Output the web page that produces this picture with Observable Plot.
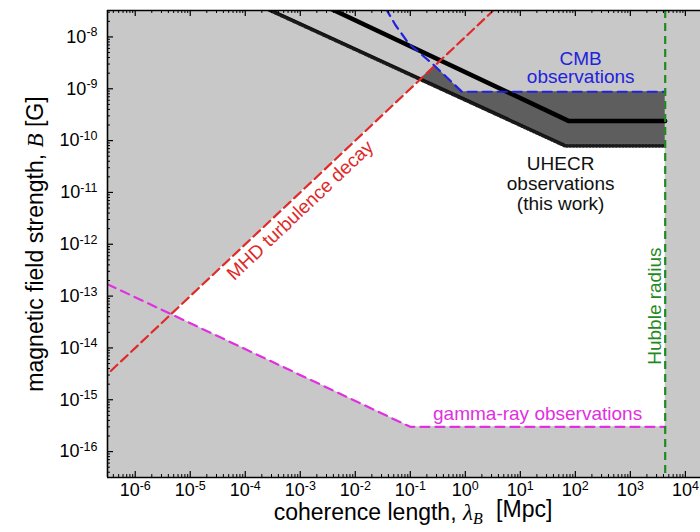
<!DOCTYPE html>
<html>
<head>
<meta charset="utf-8">
<script src="https://cdn.jsdelivr.net/npm/d3@7"></script>
<script src="https://cdn.jsdelivr.net/npm/@observablehq/plot@0.6"></script>
<style>
  body { margin: 0; background: #fff; }
  svg { display: block; }
</style>
</head>
<body>
<div id="chart"></div>
<script>
// Axis ticks (coherence length in Mpc, field strength in G)
const xTickValues = [1e-6, 1e-5, 1e-4, 1e-3, 1e-2, 1e-1, 1e0, 1e1, 1e2, 1e3, 1e4];
const xTickLabels = ["10^-6", "10^-5", "10^-4", "10^-3", "10^-2", "10^-1", "10^0", "10^1", "10^2", "10^3", "10^4"];
const yTickValues = [1e-16, 1e-15, 1e-14, 1e-13, 1e-12, 1e-11, 1e-10, 1e-9, 1e-8];
const yTickLabels = ["10^-16", "10^-15", "10^-14", "10^-13", "10^-12", "10^-11", "10^-10", "10^-9", "10^-8"];

// MHD turbulence decay, B ∝ λ
const mhdLambda = [1e-7, 10];
const mhdB = [1e-15, 1e-7];

// gamma-ray lower bound
const gammaLambda = [1e-7, 0.1, 4300];
const gammaB = [3e-13, 3e-16, 3e-16];

// CMB upper bound
const cmbLambda = [0.0355, 0.054, 0.094, 0.25, 0.87, 4300];
const cmbB = [3.6e-8, 1.68e-8, 7.4e-9, 3.07e-9, 8.75e-10, 8.75e-10];

// UHECR bound (this work): lower edge of excluded band and central line
const uhecrLowLambda = [1e-4, 65, 4300];
const uhecrLowB = [5.8e-8, 8.5e-11, 8.5e-11];
const uhecrLambda = [1e-4, 75, 4300];
const uhecrB = [2.1e-7, 2.4e-10, 2.4e-10];

// Hubble radius [Mpc]
const hubbleRadius = 4300;

// Annotation texts
const noteText = ["CMB\nobservations", "UHECR\nobservations\n(this work)", "gamma-ray observations", "MHD turbulence decay", "Hubble radius"];
const noteLambda = [125, 54, 20.6, 1.0e-3, 2770];
const noteB = [2.48e-9, 1.5e-11, 5.4e-16, 4.5e-12, 6.4e-14];
const noteColor = ["#2222dd", "#111111", "#e030e0", "#e02a2a", "#1f8a1f"];
const noteRotate = [0, 0, 0, -43.4, -90];
const noteLineHeight = [0.92, 1.06, 1, 1, 1];

const xDomain = [10 ** -6.504, 10 ** 4.275];
const yDomain = [10 ** -16.5, 10 ** -7.49];

const W = 700, H = 532;
const mL = 107, mR = 0, mT = 10, mB = 55;
const frameW = W - mL - mR, frameH = H - mT - mB;

// ---- helpers: piecewise power laws are straight lines in log–log space
const toCurve = (xs, ys) => xs.map((x, i) => [Math.log10(x), Math.log10(ys[i])]);
function at(c, lx) {
  let i = 0;
  while (i < c.length - 2 && lx > c[i + 1][0]) i++;
  const [x0, y0] = c[i], [x1, y1] = c[i + 1];
  return y0 + (y1 - y0) * (lx - x0) / (x1 - x0);
}
// region between a lower curve and the lowest of several upper curves
function band(lower, uppers, lx0, lx1) {
  const curves = [lower, ...uppers];
  let xs = [lx0, lx1];
  for (const c of curves) for (const [x] of c) if (x > lx0 && x < lx1) xs.push(x);
  xs.sort((a, b) => a - b);
  const extra = [];
  for (let k = 0; k < xs.length - 1; k++) {
    const a = xs[k], b = xs[k + 1];
    for (let i = 0; i < curves.length; i++) for (let j = i + 1; j < curves.length; j++) {
      const da = at(curves[i], a) - at(curves[j], a);
      const db = at(curves[i], b) - at(curves[j], b);
      if (da * db < 0) extra.push(a + (b - a) * da / (da - db));
    }
  }
  xs = xs.concat(extra).sort((a, b) => a - b);
  return xs.map(lx => {
    const lo = at(lower, lx);
    const hi = Math.max(lo, Math.min(...uppers.map(c => at(c, lx))));
    return {x: 10 ** lx, y1: 10 ** lo, y2: 10 ** hi};
  });
}

const mhd = toCurve(mhdLambda, mhdB);
const gamma = toCurve(gammaLambda, gammaB);
const cmb = toCurve(cmbLambda, cmbB);
const uhecrLow = toCurve(uhecrLowLambda, uhecrLowB);

const lxHubble = Math.log10(hubbleRadius);
const allowed = band(gamma, [mhd, uhecrLow], Math.log10(xDomain[0]) - 0.5, lxHubble);
const uhecrExcluded = band(uhecrLow, [cmb, mhd], -4, lxHubble);

const pts = (xs, ys) => xs.map((x, i) => ({x, y: ys[i]}));

// minor ticks 2..9 per decade
function minors(majors, domain) {
  const out = [];
  const first = majors[0] / 10;
  for (const d of [first, ...majors]) for (let m = 2; m <= 9; m++) {
    const v = d * m;
    if (v > domain[0] && v < domain[1]) out.push(v);
  }
  return out;
}
const xMinor = minors(xTickValues, xDomain);
const yMinor = minors(yTickValues, yDomain);
const xMajorIn = xTickValues.filter(v => v > xDomain[0] && v < xDomain[1]);

const notes = noteText.map((t, i) => ({text: t, x: noteLambda[i], y: noteB[i], color: noteColor[i], rotate: noteRotate[i], lh: noteLineHeight[i]}));

const labelFont = 19;

const svg = Plot.plot({
  width: W, height: H,
  marginLeft: mL, marginRight: mR, marginTop: mT, marginBottom: mB,
  style: {fontFamily: "'Liberation Sans', Arial, sans-serif", background: "#fff", color: "#000"},
  x: {type: "log", domain: xDomain},
  y: {type: "log", domain: yDomain},
  marks: [
    Plot.frame({fill: "#c8c8c8", stroke: null}),
    Plot.areaY(allowed, {x: "x", y1: "y1", y2: "y2", fill: "#ffffff", clip: "frame"}),
    Plot.areaY(uhecrExcluded, {x: "x", y1: "y1", y2: "y2", fill: "#5e5e5e", clip: "frame"}),
    // lower edge of the UHECR band: line with a comb of teeth underneath
    Plot.line(pts(uhecrLowLambda, uhecrLowB), {x: "x", y: "y", stroke: "#1a1a1a", strokeWidth: 3.4, strokeDasharray: "1.3,2", dy: 1.7, clip: "frame"}),
    Plot.line(pts(uhecrLowLambda, uhecrLowB), {x: "x", y: "y", stroke: "#111", strokeWidth: 1.2, clip: "frame"}),
    Plot.line(pts(uhecrLambda, uhecrB), {x: "x", y: "y", stroke: "#000", strokeWidth: 4.5, clip: "frame"}),
    Plot.line(pts(cmbLambda, cmbB), {x: "x", y: "y", stroke: "#2222dd", strokeWidth: 2.2, strokeDasharray: "9,6", clip: "frame"}),
    Plot.line(pts(mhdLambda, mhdB), {x: "x", y: "y", stroke: "#e02a2a", strokeWidth: 2.2, strokeDasharray: "9,5", clip: "frame"}),
    Plot.line(pts(gammaLambda, gammaB), {x: "x", y: "y", stroke: "#e030e0", strokeWidth: 2.2, strokeDasharray: "9,6", clip: "frame"}),
    Plot.ruleX([hubbleRadius], {stroke: "#1f8a1f", strokeWidth: 2.2, strokeDasharray: "8,5"}),
    // annotations
    ...notes.map(n => Plot.text([n], {x: "x", y: "y", text: "text", fill: n.color, rotate: n.rotate, fontSize: labelFont, lineHeight: n.lh, textAnchor: "middle"})),
    // ticks pointing inward
    Plot.tickX(xMajorIn, {x: d => d, insetTop: frameH - 6, stroke: "#000", strokeWidth: 1.2}),
    Plot.tickX(xMajorIn, {x: d => d, insetBottom: frameH - 6, stroke: "#000", strokeWidth: 1.2}),
    Plot.tickX(xMinor, {x: d => d, insetTop: frameH - 3, stroke: "#000", strokeWidth: 1}),
    Plot.tickX(xMinor, {x: d => d, insetBottom: frameH - 3, stroke: "#000", strokeWidth: 1}),
    Plot.tickY(yTickValues, {y: d => d, insetRight: frameW - 6, stroke: "#000", strokeWidth: 1.2}),
    Plot.tickY(yMinor, {y: d => d, insetRight: frameW - 3, stroke: "#000", strokeWidth: 1}),
    // frame edges
    Plot.ruleY([yDomain[0]], {stroke: "#000", strokeWidth: 1.6}),
    Plot.ruleY([yDomain[1]], {stroke: "#000", strokeWidth: 1.6}),
    Plot.ruleX([xDomain[0]], {stroke: "#000", strokeWidth: 1.6}),
    // tick labels
    Plot.axisX({ticks: xTickValues, tickSize: 0, tickPadding: 6, fontSize: 18, tickFormat: d => xTickLabels[xTickValues.indexOf(d)], label: null}),
    Plot.axisY({ticks: yTickValues, tickSize: 0, tickPadding: 10, fontSize: 18, tickFormat: d => yTickLabels[yTickValues.indexOf(d)], label: null}),
    // axis titles
    Plot.text(["coherence length"], {frameAnchor: "bottom", dx: 9, dy: 42, fontSize: 23, textAnchor: "middle"}),
    Plot.text(["magnetic field strength"], {frameAnchor: "left", dx: -72, rotate: -90, fontSize: 23, textAnchor: "middle"})
  ]
});

const root = d3.select(svg);
// superscript exponents on tick labels
root.selectAll('g[aria-label="x-axis tick label"] text, g[aria-label="y-axis tick label"] text').each(function () {
  const t = d3.select(this);
  const [base, exp] = t.text().split("^");
  t.text(null);
  t.append("tspan").text(base);
  t.append("tspan").attr("dy", "-0.5em").attr("font-size", "12.5px").text(exp);
});
// axis titles with math symbols
const math = "'Liberation Serif', 'Times New Roman', serif";
root.selectAll("text").each(function () {
  const t = d3.select(this);
  const s = t.text();
  if (s === "coherence length") {
    t.text(null);
    t.append("tspan").text("coherence length, ");
    t.append("tspan").attr("font-family", math).attr("font-style", "italic").text("λ");
    t.append("tspan").attr("font-family", math).attr("font-style", "italic").attr("font-size", "16px").attr("dy", "0.3em").text("B");
    t.append("tspan").attr("dy", "-0.3em").attr("dx", "7").text(" [Mpc]");
  } else if (s === "magnetic field strength") {
    t.text(null);
    t.append("tspan").text("magnetic field strength, ");
    t.append("tspan").attr("font-family", math).attr("font-style", "italic").text("B");
    t.append("tspan").text(" [G]");
  }
});

document.getElementById("chart").appendChild(svg);
</script>
</body>
</html>
